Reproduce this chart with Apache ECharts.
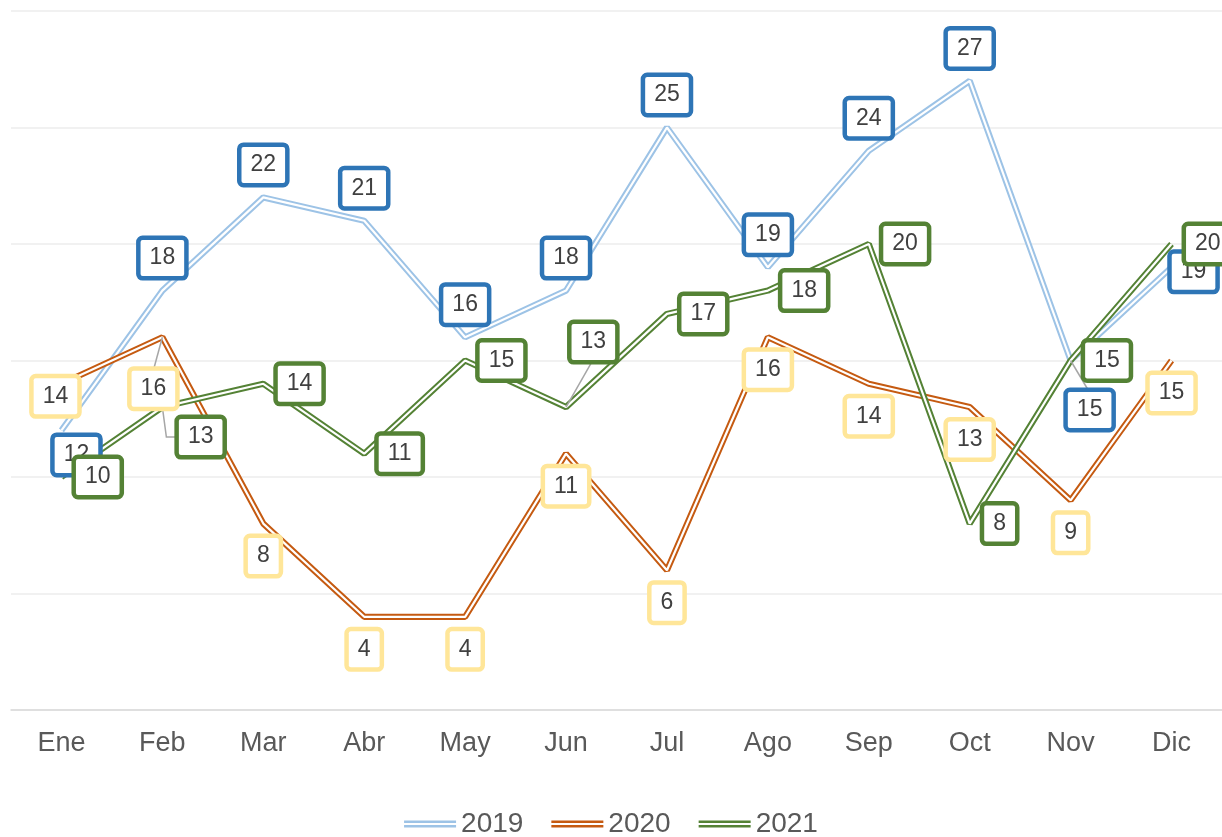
<!DOCTYPE html>
<html>
<head>
<meta charset="utf-8">
<title>2019 - 2021</title>
<script src="https://cdn.jsdelivr.net/npm/echarts@6/dist/echarts.min.js"></script>
<style>
  html, body { margin: 0; padding: 0; background: #fff; }
  #chart { width: 1222px; height: 837px; }
</style>
</head>
<body>
<div id="chart"></div>
<script>
// datos
var months = ['Ene', 'Feb', 'Mar', 'Abr', 'May', 'Jun', 'Jul', 'Ago', 'Sep', 'Oct', 'Nov', 'Dic']
var years = ['2019', '2020', '2021']
var y2019 = [12, 18, 22, 21, 16, 18, 25, 19, 24, 27, 15, 19]
var y2020 = [14, 16, 8, 4, 4, 11, 6, 16, 14, 13, 9, 15]
var y2021 = [10, 13, 14, 11, 15, 13, 17, 18, 20, 8, 15, 20]

var FONT = 'Liberation Sans, Arial, sans-serif'
var LABEL_FONT = 23
var LABEL_DIST = 14
var LABEL_PAD = [5, 9]
var LABEL_LH = 26

// etiquetas movidas a mano como en el original (indice -> desplazamiento, linea guia)
var labelMoves = {
  '2019': { 0: { offset: [15, 57] }, 10: { offset: [19, 82], guide: 'top' }, 11: { offset: [22, 37] } },
  '2020': { 0: { offset: [-6, -20] }, 1: { offset: [-9, 19], guide: 'top' } },
  '2021': { 1: { offset: [2, 30], guide: 'left', elbow: 12 }, 5: { offset: [-9, -65], guide: 'bottom' } }
}

// linea doble: trazo grueso de color y uno blanco fino encima
function lineSeries (name, data, color, z) {
  return [{
    name: name,
    type: 'line',
    data: data,
    color: color,
    itemStyle: { color: color },
    symbol: 'none',
    z: z,
    silent: true,
    lineStyle: { color: color, width: 6.2 }
  }, {
    name: name + ' w',
    type: 'line',
    data: data,
    symbol: 'none',
    z: z + 1,
    silent: true,
    lineStyle: { color: '#ffffff', width: 2.2 }
  }]
}

function labelSeries (name, data, border, position, z) {
  var moves = labelMoves[name] || {}
  return {
    name: name + ' etiquetas',
    type: 'scatter',
    data: data.map(function (v, i) {
      var m = moves[i]
      if (!m) return v
      return { value: v, label: { offset: m.offset } }
    }),
    symbol: 'circle',
    symbolSize: 1,
    z: z,
    silent: true,
    itemStyle: { color: 'rgba(0,0,0,0)', opacity: 1 },
    label: {
      show: true,
      opacity: 1,
      position: position,
      distance: LABEL_DIST,
      formatter: function (p) { return Array.isArray(p.value) ? p.value[1] : p.value },
      fontFamily: FONT,
      fontSize: LABEL_FONT,
      lineHeight: LABEL_LH,
      color: '#404040',
      backgroundColor: '#ffffff',
      borderColor: border,
      borderWidth: 4.5,
      borderRadius: 2,
      padding: LABEL_PAD
    }
  }
}

var labelCfg = [
  { name: '2019', data: y2019, border: '#2E75B6', pos: 'top' },
  { name: '2020', data: y2020, border: '#FFE699', pos: 'bottom' },
  { name: '2021', data: y2021, border: '#548235', pos: 'right' }
]

var series = []
  .concat(lineSeries('2019', y2019, '#9DC3E6', 2))
  .concat(lineSeries('2020', y2020, '#C55A11', 4))
  .concat(lineSeries('2021', y2021, '#548235', 6))
labelCfg.forEach(function (c, k) {
  series.push(labelSeries(c.name, c.data, c.border, c.pos, 20 + k))
})

var myChart = echarts.init(document.getElementById('chart'))
myChart.setOption({
  animation: false,
  textStyle: { fontFamily: FONT },
  grid: { left: 11, right: -5, top: 11, bottom: 127 },
  legend: {
    data: years,
    left: 'center',
    top: 810,
    padding: 0,
    itemGap: 28,
    itemWidth: 52,
    itemHeight: 7,
    icon: 'path://M0,0H52V2.5H0Z M0,4.5H52V7H0Z',
    itemStyle: { borderWidth: 0 },
    textStyle: { fontFamily: FONT, fontSize: 28, color: '#595959' }
  },
  xAxis: {
    type: 'category',
    data: months,
    boundaryGap: true,
    axisTick: { show: false },
    axisLine: { lineStyle: { color: '#D9D9D9', width: 1.5 } },
    axisLabel: { fontFamily: FONT, fontSize: 27, color: '#595959', margin: 20 },
    splitLine: { show: false }
  },
  yAxis: {
    type: 'value',
    min: 0,
    max: 30,
    interval: 5,
    axisLabel: { show: false },
    axisLine: { show: false },
    axisTick: { show: false },
    splitLine: { lineStyle: { color: '#EDEDED', width: 1.5 } }
  },
  series: series
})

// lineas guia grises de las etiquetas movidas
var ctx = document.createElement('canvas').getContext('2d')
ctx.font = LABEL_FONT + 'px Liberation Sans'
var boxH = LABEL_LH + LABEL_PAD[0] * 2
var guides = []
labelCfg.forEach(function (c) {
  var moves = labelMoves[c.name]
  Object.keys(moves).forEach(function (key) {
    var m = moves[key]
    if (!m.guide) return
    var i = +key
    var p = myChart.convertToPixel({ xAxisIndex: 0, yAxisIndex: 0 }, [i, c.data[i]])
    var boxW = ctx.measureText(String(c.data[i])).width + LABEL_PAD[1] * 2
    var cx = p[0]
    var cy = p[1]
    if (c.pos === 'top') cy -= LABEL_DIST + boxH / 2
    if (c.pos === 'bottom') cy += LABEL_DIST + boxH / 2
    if (c.pos === 'right') cx += LABEL_DIST + boxW / 2
    cx += m.offset[0]
    cy += m.offset[1]
    var a
    if (m.guide === 'top') a = [cx, cy - boxH / 2]
    if (m.guide === 'bottom') a = [cx, cy + boxH / 2]
    if (m.guide === 'left') a = [cx - boxW / 2, cy]
    var pts = m.elbow ? [p, [a[0] - m.elbow, a[1]], a] : [p, a]
    guides.push({
      type: 'polyline',
      z: 15,
      silent: true,
      shape: { points: pts },
      style: { stroke: '#A6A6A6', lineWidth: 1.5, fill: null }
    })
  })
})
myChart.setOption({ graphic: guides })
</script>
</body>
</html>
